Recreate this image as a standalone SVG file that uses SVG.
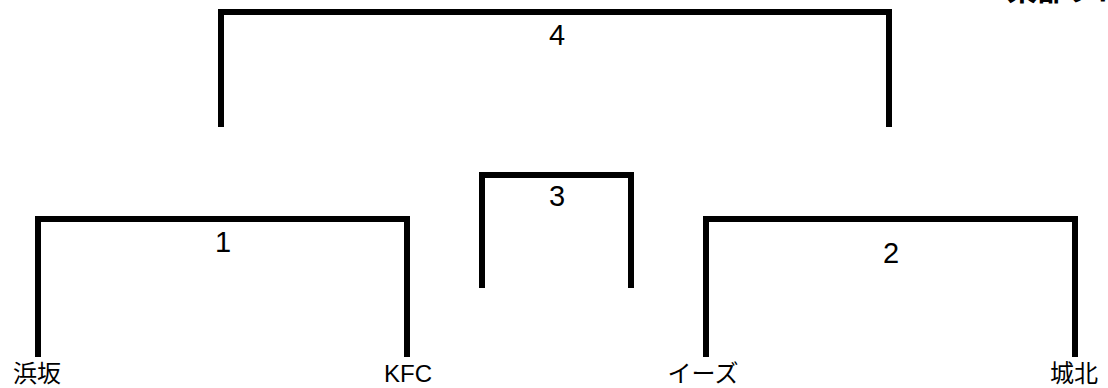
<svg xmlns="http://www.w3.org/2000/svg" width="1108" height="388" viewBox="0 0 1108 388">
<style>
.br{fill:none;stroke:#000;stroke-width:6;stroke-linejoin:miter;stroke-linecap:butt}
.num{font-family:"Liberation Sans","Noto Sans CJK JP",sans-serif;font-size:29px;fill:#000;text-anchor:middle}
.team{font-family:"Noto Sans CJK JP",sans-serif;font-size:24px;fill:#000;text-anchor:middle}
.kfc{font-family:"Liberation Sans",sans-serif;font-size:24px;fill:#000;text-anchor:middle}
.title{font-family:"Noto Sans CJK JP",sans-serif;font-size:30px;font-weight:bold;fill:#000}
</style>
<rect width="1108" height="388" fill="#fff"/>
<text class="title" x="1007" y="0">東部ブロック</text>
<g id="connectors">
<path class="br" d="M221,127 V12 H889 V127"/>
<path class="br" d="M482,288 V175 H631 V288"/>
<path class="br" d="M38,357 V219 H407 V357"/>
<path class="br" d="M706,357 V219 H1075 V357"/>
</g>
<g id="match4"><text class="num" x="557" y="45">4</text></g>
<g id="match3"><text class="num" x="557" y="206">3</text></g>
<g id="match1"><text class="num" x="223" y="252">1</text></g>
<g id="match2"><text class="num" x="891" y="263">2</text></g>
<g id="team-hamasaka"><text class="team" x="37" y="382">浜坂</text></g>
<g id="team-kfc"><text class="kfc" x="408" y="382">KFC</text></g>
<g id="team-ease"><text class="team" x="703" y="382">イーズ</text></g>
<g id="team-johoku"><text class="team" x="1074" y="382">城北</text></g>
</svg>
